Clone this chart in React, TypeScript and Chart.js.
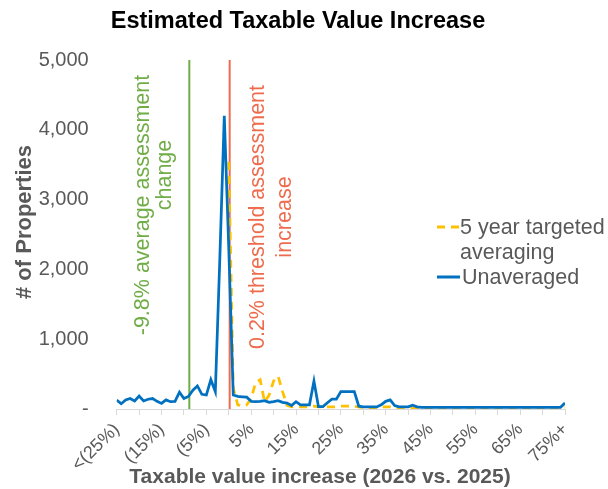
import React, { useEffect, useRef } from "react";
import { Chart, registerables } from "chart.js";

Chart.register(...registerables);

// Category values (% change in taxable value, 2026 vs. 2025)
const percentChange = [
  -25, -24, -23, -22, -21, -20, -19, -18, -17, -16, -15, -14, -13, -12, -11, -10,
  -9, -8, -7, -6, -5, -4, -3, -2, -1, 0, 1, 2, 3, 4, 5, 6, 7, 8, 9, 10, 11, 12, 13,
  14, 15, 16, 17, 18, 19, 20, 21, 22, 23, 24, 25, 26, 27, 28, 29, 30, 31, 32, 33,
  34, 35, 36, 37, 38, 39, 40, 41, 42, 43, 44, 45, 46, 47, 48, 49, 50, 51, 52, 53,
  54, 55, 56, 57, 58, 59, 60, 61, 62, 63, 64, 65, 66, 67, 68, 69, 70, 71, 72, 73,
  74, 75,
];

// Unaveraged counts
const unaveraged = [
  130, 75, 130, 150, 115, 185, 115, 140, 150, 110, 80, 130, 105, 110, 240, 150,
  180, 270, 330, 210, 200, 420, 250, 2150, 4200, 2300, 200, 180, 175, 170, 110,
  105, 110, 120, 95, 105, 120, 95, 85, 50, 105, 60, 60, 60, 400, 35, 35, 90, 140,
  140, 250, 250, 250, 250, 40, 30, 30, 30, 30, 60, 110, 130, 50, 30, 30, 30, 55,
  30, 25, 25, 25, 25, 25, 25, 25, 25, 25, 25, 25, 25, 25, 25, 25, 25, 25, 25, 25,
  25, 25, 25, 25, 25, 25, 25, 25, 25, 25, 25, 25, 25, 85,
];

// 5 year targeted averaging counts (not shown below 0%)
const fiveYearAveraging = [
  null, null, null, null, null, null, null, null, null, null, null, null, null,
  null, null, null, null, null, null, null, null, null, null, null, null, 3540,
  300, 60, 40, 60, 150, 380, 420, 100, 200, 400, 470, 250, 50, 30, 40, 30, 30, 30,
  40, 30, 30, 30, 30, 30, 40, 40, 40, 40, 30, 20, 20, 20, 20, 30, 30, 30, 10, 10,
  10, 10, 10, 10, 10, 10, 10, 10, 10, 10, 10, 10, 10, 10, 10, 10, 10, 10, 10, 10,
  10, 10, 10, 10, 10, 10, 10, 10, 10, 10, 10, 10, 10, 10, 10, 10, 20,
];

const xLabelValues = [-25, -15, -5, 5, 15, 25, 35, 45, 55, 65, 75];
const xLabels = ["<(25%)", "(15%)", "(5%)", "5%", "15%", "25%", "35%", "45%", "55%", "65%", "75%+"];

const averageChangeLine = -8.8;
const thresholdLine = 0.2;

const FONT = "'Liberation Sans', Arial, sans-serif";
const GRAY = "#595959";
const BLUE = "#0070C0";
const YELLOW = "#FFC000";
const GREEN = "#70AD47";
const RED = "#EE6C4D";

const overlayPlugin = {
  id: "overlay",
  beforeDatasetsDraw(chart: any) {
    const { ctx, chartArea, scales } = chart;
    const lines = [
      { v: averageChangeLine, c: GREEN },
      { v: thresholdLine, c: RED },
    ];
    ctx.save();
    for (const l of lines) {
      const x = scales.x.getPixelForValue(l.v);
      ctx.strokeStyle = l.c;
      ctx.lineWidth = 2;
      ctx.beginPath();
      ctx.moveTo(x, chartArea.top);
      ctx.lineTo(x, chartArea.bottom);
      ctx.stroke();
    }
    ctx.restore();
  },
  afterDraw(chart: any) {
    const { ctx, scales } = chart;
    ctx.save();
    // Title
    ctx.fillStyle = "#000";
    ctx.font = `bold 23.5px ${FONT}`;
    ctx.textAlign = "center";
    ctx.textBaseline = "middle";
    ctx.fillText("Estimated Taxable Value Increase", 298, 22);

    // Axis titles
    ctx.fillStyle = GRAY;
    ctx.font = `bold 21px ${FONT}`;
    ctx.fillText("Taxable value increase (2026 vs. 2025)", 320, 477);
    ctx.save();
    ctx.font = `bold 22px ${FONT}`;
    ctx.translate(25, 222);
    ctx.rotate(-Math.PI / 2);
    ctx.fillText("# of Properties", 0, 0);
    ctx.restore();

    // Reference line labels
    const gx = scales.x.getPixelForValue(averageChangeLine);
    const rx = scales.x.getPixelForValue(thresholdLine);
    ctx.font = `21.5px ${FONT}`;
    const drawRot = (text: string, x: number, y: number, color: string) => {
      ctx.save();
      ctx.fillStyle = color;
      ctx.translate(x, y);
      ctx.rotate(-Math.PI / 2);
      ctx.textAlign = "center";
      ctx.textBaseline = "middle";
      ctx.fillText(text, 0, 0);
      ctx.restore();
    };
    drawRot("-9.8% average assessment", gx - 46, 205, GREEN);
    drawRot("change", gx - 24, 175, GREEN);
    drawRot("0.2% threshold assessment", rx + 28, 217, RED);
    drawRot("increase", rx + 55, 217, RED);

    // Legend
    ctx.lineWidth = 3;
    ctx.strokeStyle = YELLOW;
    ctx.setLineDash([8, 6]);
    ctx.beginPath();
    ctx.moveTo(437, 227);
    ctx.lineTo(459, 227);
    ctx.stroke();
    ctx.setLineDash([]);
    ctx.strokeStyle = BLUE;
    ctx.beginPath();
    ctx.moveTo(437, 277);
    ctx.lineTo(460, 277);
    ctx.stroke();
    ctx.fillStyle = GRAY;
    ctx.textAlign = "left";
    ctx.textBaseline = "middle";
    ctx.fillText("5 year targeted", 460, 228);
    ctx.fillText("averaging", 460, 253);
    ctx.fillText("Unaveraged", 462, 278);
    ctx.restore();
  },
};

export default function App() {
  const ref = useRef<HTMLCanvasElement | null>(null);
  useEffect(() => {
    if (!ref.current) return;
    const toPoints = (arr: (number | null)[]) =>
      percentChange.map((x, i) => ({ x, y: arr[i] }));
    const chart = new Chart(ref.current, {
      type: "line",
      data: {
        datasets: [
          {
            label: "Unaveraged",
            data: toPoints(unaveraged) as any,
            borderColor: BLUE,
            borderWidth: 2.75,
            pointRadius: 0,
            tension: 0,
            order: 0,
          },
          {
            label: "5 year targeted averaging",
            data: toPoints(fiveYearAveraging) as any,
            borderColor: YELLOW,
            borderWidth: 2.75,
            borderDash: [8, 6],
            pointRadius: 0,
            tension: 0,
            spanGaps: false,
            order: 1,
          },
        ],
      },
      options: {
        animation: false,
        responsive: false,
        maintainAspectRatio: false,
        devicePixelRatio: 1,
        layout: { padding: { top: 60, right: 43, bottom: 0, left: 0 } },
        plugins: {
          legend: { display: false },
          title: { display: false },
          tooltip: { enabled: false },
        },
        scales: {
          x: {
            type: "linear",
            min: -25,
            max: 75,
            ticks: {
              stepSize: 5,
              autoSkip: false,
              minRotation: 45,
              maxRotation: 45,
              padding: 4,
              color: GRAY,
              font: { family: FONT, size: 18 },
              callback: (v: any) => {
                const idx = xLabelValues.indexOf(Number(v));
                return idx >= 0 ? xLabels[idx] : "";
              },
            },
            grid: {
              display: true,
              drawOnChartArea: false,
              drawTicks: true,
              tickLength: 6,
              color: "#D9D9D9",
            },
            border: { display: true, color: "#D9D9D9", width: 1 },
            afterFit: (s: any) => {
              s.height = 80;
            },
          },
          y: {
            min: 0,
            max: 5000,
            ticks: {
              stepSize: 1000,
              padding: 28,
              color: GRAY,
              font: { family: FONT, size: 20 },
              callback: (v: any) => (Number(v) === 0 ? "-" : Number(v).toLocaleString("en-US")),
            },
            grid: { display: false, drawTicks: false },
            border: { display: false },
            afterFit: (s: any) => {
              s.width = 116.7;
            },
          },
        },
      },
      plugins: [overlayPlugin],
    });
    return () => chart.destroy();
  }, []);
  return (
    <div style={{ position: "fixed", left: 0, top: 0, width: 608, height: 489, background: "#fff" }}>
      <canvas ref={ref} width={608} height={489} style={{ width: 608, height: 489 }} />
    </div>
  );
}
